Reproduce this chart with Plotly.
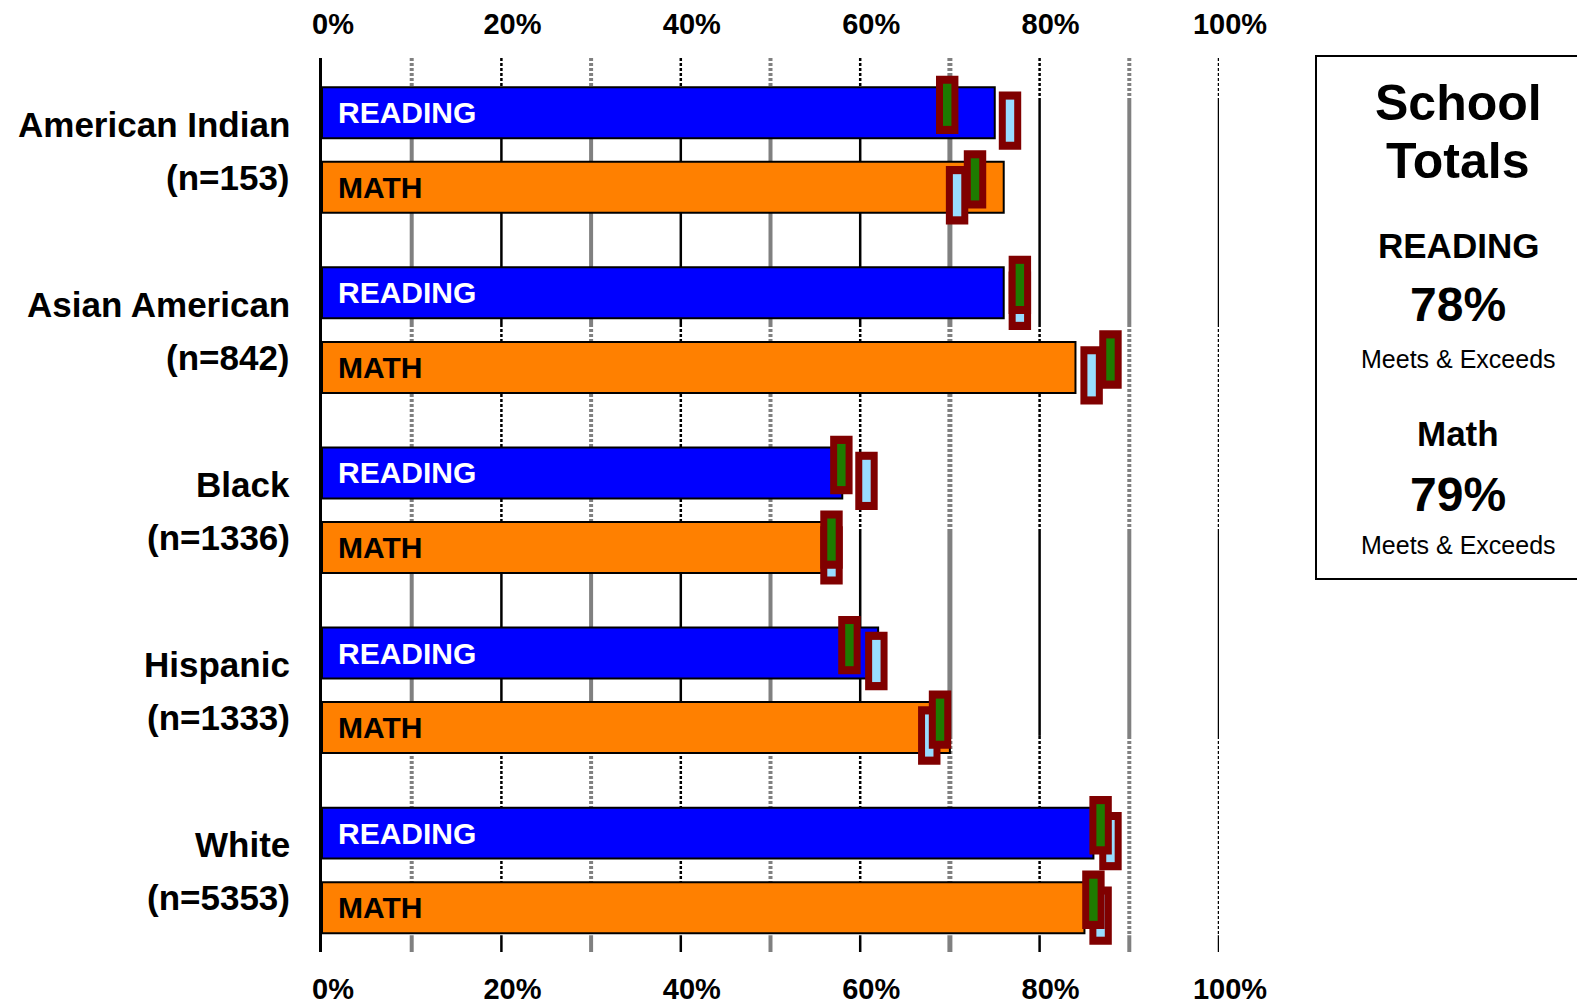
import plotly.graph_objects as go

# ---------------- data ----------------
groups = ["American Indian", "Asian American", "Black", "Hispanic", "White"]
counts = [153, 842, 1336, 1333, 5353]
reading = [75, 76, 58, 62, 86]
math = [76, 84, 57, 70, 85]
# comparison markers (green = first comparison, light blue = second comparison)
reading_green = [69.7, 77.8, 57.9, 58.8, 86.8]
reading_blue = [76.7, 77.8, 60.7, 61.8, 87.9]
math_green = [72.8, 87.9, 56.8, 68.9, 86.0]
math_blue = [70.8, 85.8, 56.8, 67.7, 86.8]
tick_vals = [0, 20, 40, 60, 80, 100]
tick_text = ["0%", "20%", "40%", "60%", "80%", "100%"]
grid_vals = [10, 20, 30, 40, 50, 60, 70, 80, 90, 100]
school_reading = 78
school_math = 79

# ---------------- layout constants ----------------
OFF = 8  # page body margin
W, H = 1585 - OFF, 1005 - OFF
L, R, T, B = 322 - OFF, 366, 58 - OFF, 53
PW, PH = W - L - R, H - T - B
FONT = "Liberation Sans, Arial, sans-serif"

BAR_OFF = 0.207
BAR_W = 0.283
Y_RANGE = [4.453, -0.511]

BLUE = "#0000FF"
ORANGE = "#FF8000"
DARKRED = "#800000"
GREEN = "#1E7B00"
LBLUE = "#99DDFF"
GRAY = "#808080"


def px_x(px):
    return (px - OFF - L) / PW


def px_y(py):
    return (H - B - (py - OFF)) / PH


ypos = list(range(len(groups)))
y_read = [i - BAR_OFF for i in ypos]
y_math = [i + BAR_OFF for i in ypos]

fig = go.Figure()
fig.add_trace(go.Bar(
    x=reading, y=y_read, orientation="h", width=BAR_W,
    marker=dict(color=BLUE, line=dict(color="black", width=2)),
    hoverinfo="x", showlegend=False))
fig.add_trace(go.Bar(
    x=math, y=y_math, orientation="h", width=BAR_W,
    marker=dict(color=ORANGE, line=dict(color="black", width=2)),
    hoverinfo="x", showlegend=False))
# invisible trace to carry the top axis
fig.add_trace(go.Scatter(x=[0, 100], y=[0, 0], xaxis="x2", mode="markers",
                         marker=dict(opacity=0), hoverinfo="skip", showlegend=False))

shapes = []

# gridlines: style segments (y in data units), alternating dashed / solid
seg_bounds = [-0.511, -0.278, 0.966, 2.115, 3.253, 4.36, 4.453]
seg_dash = ["3px,2px", "solid", "3px,2px", "solid", "3px,2px", "solid"]
for g in grid_vals:
    odd = (g // 10) % 2 == 1
    color = GRAY if odd else "black"
    width = (5 if g == 70 else 4) if odd else 2.5
    for k in range(len(seg_dash)):
        shapes.append(dict(type="line", xref="x", yref="y", x0=g, x1=g,
                           y0=seg_bounds[k], y1=seg_bounds[k + 1], layer="below",
                           line=dict(color=color, width=width, dash=seg_dash[k])))

# comparison markers
OUT_HW, IN_HW = 1.25, 0.47
OUT_HH, IN_HH = 0.162, 0.117
DY = 0.044
for yc_list, greens, blues in [(y_read, reading_green, reading_blue),
                               (y_math, math_green, math_blue)]:
    for yc, gv, bv in zip(yc_list, greens, blues):
        for val, col, dy in [(bv, LBLUE, DY), (gv, GREEN, -DY)]:
            cy = yc + dy
            shapes.append(dict(type="rect", xref="x", yref="y",
                               x0=val - OUT_HW, x1=val + OUT_HW,
                               y0=cy - OUT_HH, y1=cy + OUT_HH,
                               fillcolor=DARKRED, line=dict(width=0), layer="above"))
            shapes.append(dict(type="rect", xref="x", yref="y",
                               x0=val - IN_HW, x1=val + IN_HW,
                               y0=cy - IN_HH, y1=cy + IN_HH,
                               fillcolor=col, line=dict(width=0), layer="above"))

# school totals box
shapes.append(dict(type="rect", xref="paper", yref="paper",
                   x0=px_x(1316), x1=px_x(1600), y0=px_y(579), y1=px_y(56),
                   line=dict(color="black", width=2), fillcolor="rgba(0,0,0,0)"))

annotations = []
# category labels and bar labels
for i, (gname, n) in enumerate(zip(groups, counts)):
    annotations.append(dict(xref="paper", yref="y", x=0, y=i - 0.143, xanchor="right",
                            yanchor="middle", xshift=-30, showarrow=False, text=gname,
                            font=dict(family=FONT, size=35, color="black", weight="bold")))
    annotations.append(dict(xref="paper", yref="y", x=0, y=i + 0.152, xanchor="right",
                            yanchor="middle", xshift=-30, showarrow=False, text=f"(n={n})",
                            font=dict(family=FONT, size=35, color="black", weight="bold")))
    annotations.append(dict(xref="x", yref="y", x=0, y=y_read[i], xanchor="left",
                            yanchor="middle", xshift=14, showarrow=False, text="READING",
                            font=dict(family=FONT, size=30, color="white", weight="bold")))
    annotations.append(dict(xref="x", yref="y", x=0, y=y_math[i], xanchor="left",
                            yanchor="middle", xshift=14, showarrow=False, text="MATH",
                            font=dict(family=FONT, size=30, color="black", weight="bold")))

box_cx = px_x(1458)
box_texts = [
    ("School", 103, 50, "bold"),
    ("Totals", 161, 50, "bold"),
    ("READING", 245, 35, "bold"),
    (f"{school_reading}%", 304, 48, "bold"),
    ("Meets &amp; Exceeds", 359, 25, "normal"),
    ("Math", 433, 35, "bold"),
    (f"{school_math}%", 494, 48, "bold"),
    ("Meets &amp; Exceeds", 545, 25, "normal"),
]
for txt, py, sz, wt in box_texts:
    annotations.append(dict(xref="paper", yref="paper", x=box_cx, y=px_y(py),
                            xanchor="center", yanchor="middle", showarrow=False, text=txt,
                            font=dict(family=FONT, size=sz, color="black", weight=wt)))

tickfont = dict(family=FONT, size=29, color="black", weight="bold")

fig.update_layout(
    width=W, height=H,
    margin=dict(l=L, r=R, t=T, b=B, pad=0, autoexpand=False),
    paper_bgcolor="white", plot_bgcolor="white",
    barmode="overlay",
    showlegend=False,
    shapes=shapes,
    annotations=annotations,
    xaxis=dict(range=[0, 100], tickvals=tick_vals, ticktext=tick_text, side="bottom",
               showgrid=False, zeroline=False, showline=False, ticks="", automargin=False,
               ticklabelshift=11, ticklabelstandoff=17, tickfont=tickfont, fixedrange=True),
    xaxis2=dict(range=[0, 100], matches="x", overlaying="x", side="top",
                tickvals=tick_vals, ticktext=tick_text, showgrid=False, zeroline=False,
                showline=False, ticks="", automargin=False, ticklabelshift=11,
                ticklabelstandoff=17, tickfont=tickfont, fixedrange=True),
    yaxis=dict(range=Y_RANGE, showticklabels=False, showgrid=False, zeroline=False,
               automargin=False, showline=True, linecolor="black", linewidth=3,
               ticks="", fixedrange=True),
)

fig.write_html("out.html")
